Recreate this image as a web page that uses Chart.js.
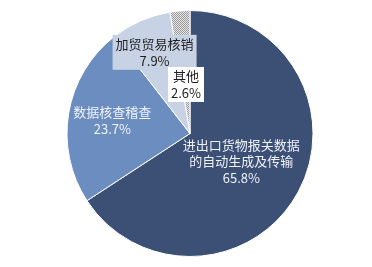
<!DOCTYPE html>
<html>
<head>
<meta charset="utf-8">
<script src="https://cdn.jsdelivr.net/npm/chart.js@4.4.1/dist/chart.umd.min.js"></script>
<style>
html,body{margin:0;padding:0;background:#fff;}
#wrap{width:372px;height:267px;}
</style>
</head>
<body>
<div id="wrap"><canvas id="c" width="372" height="267"></canvas></div>
<script>
const categories = [["进出口货物报关数据","的自动生成及传输"], ["数据核查稽查"], ["加贸贸易核销"], ["其他"]];
const values = [65.8, 23.7, 7.9, 2.6];
const valueLabels = ["65.8%", "23.7%", "7.9%", "2.6%"];

function hatch() {
  const p = document.createElement('canvas');
  p.width = 2; p.height = 2;
  const g = p.getContext('2d');
  g.fillStyle = '#e6e6e6'; g.fillRect(0,0,2,2);
  g.fillStyle = '#9a9a9a'; g.fillRect(0,0,1,1); g.fillRect(1,1,1,1);
  return g.createPattern(p, 'repeat');
}
const ctx0 = document.getElementById('c').getContext('2d');
const colors = ['#3c4f74', '#6c8dbf', '#c7d2e5', hatch()];
const labelStyle = [
  {frac:0.475, color:'#eef2fa', box:null},
  {frac:0.64, color:'#eef2fa', box:null},
  {frac:0.72, color:'#1e1e1e', box:'#c7d2e5'},
  {frac:0.40, color:'#1e1e1e', box:'#ffffff'}
];

const labelPlugin = {
  id: 'sliceLabels',
  afterDatasetsDraw(chart) {
    const ctx = chart.ctx;
    const meta = chart.getDatasetMeta(0);
    ctx.save();
    ctx.font = '13px "Noto Sans CJK SC", "Noto Sans", sans-serif';
    ctx.textAlign = 'center';
    ctx.textBaseline = 'middle';
    const lh = 16.5;
    meta.data.forEach((arc, i) => {
      const st = labelStyle[i];
      const mid = (arc.startAngle + arc.endAngle) / 2;
      const r = arc.outerRadius * st.frac;
      const cx = arc.x + Math.cos(mid) * r;
      const cy = arc.y + Math.sin(mid) * r;
      const lines = categories[i].concat([valueLabels[i]]);
      const h = lines.length * lh;
      const top = cy - h / 2;
      if (st.box) {
        let w = 0;
        lines.forEach(l => { w = Math.max(w, ctx.measureText(l).width); });
        ctx.fillStyle = st.box;
        ctx.fillRect(cx - w/2 - 3, top - 1, w + 6, h + 2);
      }
      ctx.fillStyle = st.color;
      lines.forEach((l, k) => ctx.fillText(l, cx, top + lh * (k + 0.5)));
    });
    ctx.restore();
  }
};

new Chart(ctx0, {
  type: 'pie',
  data: {
    labels: categories.map(c => c.join('')),
    datasets: [{
      data: values,
      backgroundColor: colors,
      borderColor: '#ffffff',
      borderWidth: 1
    }]
  },
  options: {
    responsive: false,
    animation: false,
    layout: { padding: { top: 10, bottom: 10, left: 8, right: 0 } },
    plugins: { legend: { display: false }, tooltip: { enabled: false } }
  },
  plugins: [labelPlugin]
});
</script>
</body>
</html>
